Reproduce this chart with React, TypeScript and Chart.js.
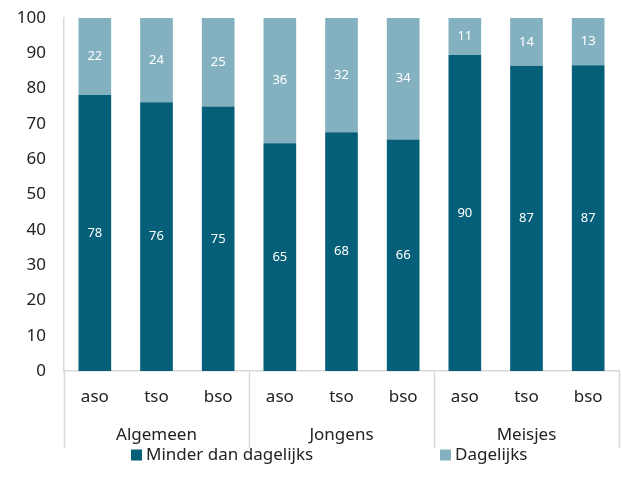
import React, { useEffect, useRef } from 'react';
import { Chart, registerables } from 'chart.js';

Chart.register(...registerables);

const groups = ['Algemeen', 'Jongens', 'Meisjes'];
const categories = ['aso', 'tso', 'bso', 'aso', 'tso', 'bso', 'aso', 'tso', 'bso'];
const seriesNames = ['Minder dan dagelijks', 'Dagelijks'];
const minderValues = [78.2, 76.1, 74.9, 64.5, 67.6, 65.6, 89.5, 86.5, 86.6];
const dagelijksValues = [21.8, 23.9, 25.1, 35.5, 32.4, 34.4, 10.5, 13.5, 13.4];
const yMin = 0;
const yMax = 100;
const yStep = 10;

const DARK = '#065f79';
const LIGHT = '#84b1c0';
const AXIS = '#d9d9d9';
const TEXT = '#222222';
const FAMILY = '"Noto Sans", "DejaVu Sans", sans-serif';

const overlayPlugin = {
  id: 'overlay',
  afterDatasetsDraw(chart: any) {
    const ctx = chart.ctx;
    ctx.save();
    ctx.font = `13px ${FAMILY}`;
    ctx.fillStyle = '#ffffff';
    ctx.textAlign = 'center';
    ctx.textBaseline = 'middle';
    chart.data.datasets.forEach((ds: any, di: number) => {
      const meta = chart.getDatasetMeta(di);
      meta.data.forEach((el: any, i: number) => {
        const v = ds.data[i];
        const p = el.getProps(['x', 'y', 'base'], true);
        ctx.fillText(String(Math.round(v)), p.x, (p.y + p.base) / 2);
      });
    });
    ctx.restore();
  },
  afterDraw(chart: any) {
    const ctx = chart.ctx;
    const xs = chart.scales.x;
    const area = chart.chartArea;
    const perGroup = categories.length / groups.length;
    const catW = xs.width / categories.length;
    ctx.save();
    // group separators
    ctx.strokeStyle = AXIS;
    ctx.lineWidth = 1.5;
    for (let g = 0; g <= groups.length; g++) {
      const px = Math.round(xs.left + g * perGroup * catW) + 0.5;
      ctx.beginPath();
      ctx.moveTo(px, area.bottom);
      ctx.lineTo(px, area.bottom + 77);
      ctx.stroke();
    }
    // group labels
    ctx.fillStyle = TEXT;
    ctx.font = `17px ${FAMILY}`;
    ctx.textAlign = 'center';
    ctx.textBaseline = 'middle';
    groups.forEach((g, gi) => {
      const cx = xs.getPixelForValue(gi * perGroup + (perGroup - 1) / 2);
      ctx.fillText(g, cx, area.bottom + 64);
    });
    // legend
    const legendX = [131, 440];
    const legendY = area.bottom + 84;
    chart.data.datasets.forEach((ds: any, di: number) => {
      ctx.fillStyle = ds.backgroundColor;
      ctx.fillRect(legendX[di], legendY - 5.5, 11, 11);
      ctx.fillStyle = TEXT;
      ctx.textAlign = 'left';
      ctx.fillText(ds.label, legendX[di] + 15, legendY);
    });
    ctx.restore();
  },
};

export default function App() {
  const ref = useRef<HTMLCanvasElement | null>(null);

  useEffect(() => {
    if (!ref.current) return;
    const chart = new Chart(ref.current, {
      type: 'bar',
      data: {
        labels: categories,
        datasets: [
          {
            label: seriesNames[0],
            data: minderValues,
            backgroundColor: DARK,
            barPercentage: 0.53,
            categoryPercentage: 1,
          },
          {
            label: seriesNames[1],
            data: dagelijksValues,
            backgroundColor: LIGHT,
            barPercentage: 0.53,
            categoryPercentage: 1,
          },
        ],
      },
      options: {
        responsive: false,
        animation: false,
        devicePixelRatio: 1,
        layout: { padding: { top: 0, right: 3, left: 0, bottom: 0 } },
        plugins: {
          legend: { display: false },
          tooltip: { enabled: false },
        },
        scales: {
          x: {
            stacked: true,
            grid: { display: false },
            border: { display: true, color: AXIS, width: 1.5 },
            ticks: {
              color: TEXT,
              font: { size: 17, family: FAMILY },
              padding: 8,
              maxRotation: 0,
              autoSkip: false,
            },
            afterFit: (s: any) => {
              s.height = 124;
            },
          },
          y: {
            stacked: true,
            min: yMin,
            max: yMax,
            grid: { display: false },
            border: { display: true, color: AXIS, width: 1.5 },
            ticks: {
              stepSize: yStep,
              color: TEXT,
              font: { size: 17, family: FAMILY },
              padding: 10,
            },
            afterFit: (s: any) => {
              s.width = 64;
              s.paddingTop = 18;
            },
          },
        },
      },
      plugins: [overlayPlugin],
    });
    return () => chart.destroy();
  }, []);

  return (
    <div style={{ position: 'fixed', left: 0, top: 0, width: 622, height: 495, background: '#fff' }}>
      <canvas ref={ref} width={622} height={495} />
    </div>
  );
}
